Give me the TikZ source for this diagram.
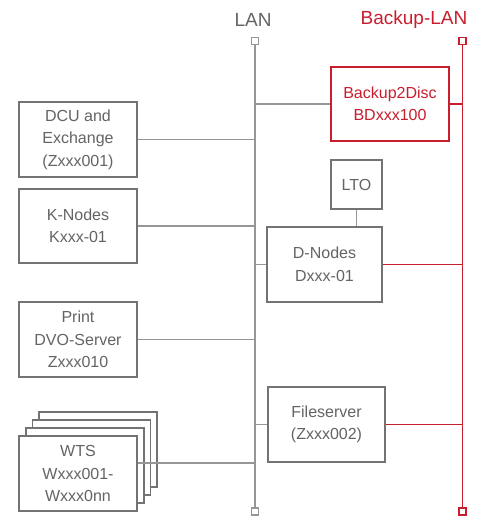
\documentclass[tikz,border=0pt]{standalone}
\usepackage{fontspec}
\setmainfont{Liberation Sans}
\begin{document}
\begin{tikzpicture}[x=1pt,y=-1pt,
  lanline/.style={draw=lgray,line width=1.5pt},
  redline/.style={draw=bred,line width=1.8pt},
  box/.style={draw=bgray,line width=1.7pt,fill=white,inner sep=0pt,align=center,
    text=tgray,font=\fontsize{16}{22.5}\selectfont},
  redbox/.style={box,draw=bred,text=bred},
  term/.style={draw=lgray,line width=1.2pt,fill=white,minimum size=7pt,inner sep=0pt},
  redterm/.style={term,draw=bred},
  lbl/.style={font=\fontsize{19}{22}\selectfont,inner sep=0pt}]
\definecolor{lgray}{RGB}{150,150,150}
\definecolor{bgray}{RGB}{115,115,115}
\definecolor{tgray}{RGB}{100,100,100}
\definecolor{bred}{RGB}{200,30,45}
\useasboundingbox (0,0) rectangle (481,516);
% bus terminals
\node[term] (lant) at (255,41) {};
\node[term] (lanb) at (255,511.5) {};
\node[redterm] (blant) at (462.5,41) {};
\node[redterm] (blanb) at (462.5,511.5) {};
\node[lbl,text=tgray] (lanl) at (253,20) {LAN};
\node[lbl,text=bred] (blanl) at (414,20) {Backup-LAN};
% boxes
\node[box,minimum width=118pt,minimum height=75pt] (dcu) at (78,139.5) {DCU and\\Exchange\\(Zxxx001)};
\node[box,minimum width=118pt,minimum height=74pt] (kn) at (78,226) {K-Nodes\\Kxxx-01};
\node[box,minimum width=118pt,minimum height=75pt] (pr) at (78,339.5) {Print\\DVO-Server\\Zxxx010};
% WTS stack
\node[box,minimum width=118pt,minimum height=75pt] (w3) at (98,449.5) {};
\node[box,minimum width=118pt,minimum height=75pt] (w2) at (91.5,457.5) {};
\node[box,minimum width=118pt,minimum height=75pt] (w1) at (85,465.5) {};
\node[box,minimum width=118pt,minimum height=75pt] (wts) at (78,473.5) {WTS\\Wxxx001-\\Wxxx0nn};
\node[redbox,minimum width=118pt,minimum height=74pt] (bd) at (390,104) {Backup2Disc\\BDxxx100};
\node[box,minimum width=51pt,minimum height=49pt] (lto) at (356.5,184.5) {LTO};
\node[box,minimum width=115pt,minimum height=75pt] (dn) at (324.5,264.5) {D-Nodes\\Dxxx-01};
\node[box,minimum width=117pt,minimum height=75pt] (fs) at (326.5,424.5) {Fileserver\\(Zxxx002)};
% buses
\draw[lanline] (lant) -- (lanb);
\draw[redline] (blant) -- (blanb);
% LAN connections
\coordinate (wc) at (255,463);
\draw[lanline] (dcu.east) -- (dcu.east -| lant);
\draw[lanline] (kn.east) -- (kn.east -| lant);
\draw[lanline] (pr.east) -- (pr.east -| lant);
\draw[lanline] (wts.east |- wc) -- (wc);
\draw[lanline] (bd.west) -- (bd.west -| lant);
\draw[lanline] (dn.west) -- (dn.west -| lant);
\draw[lanline] (fs.west) -- (fs.west -| lant);
\draw[lanline] (lto.south) -- (dn.north -| lto.south);
% Backup-LAN connections
\draw[redline] (bd.east) -- (bd.east -| blant);
\draw[redline] (dn.east) -- (dn.east -| blant);
\draw[redline] (fs.east) -- (fs.east -| blant);
% redraw terminals on top
\node[term] at (lant) {};
\node[term] at (lanb) {};
\node[redterm] at (blant) {};
\node[redterm] at (blanb) {};
\end{tikzpicture}
\end{document}
